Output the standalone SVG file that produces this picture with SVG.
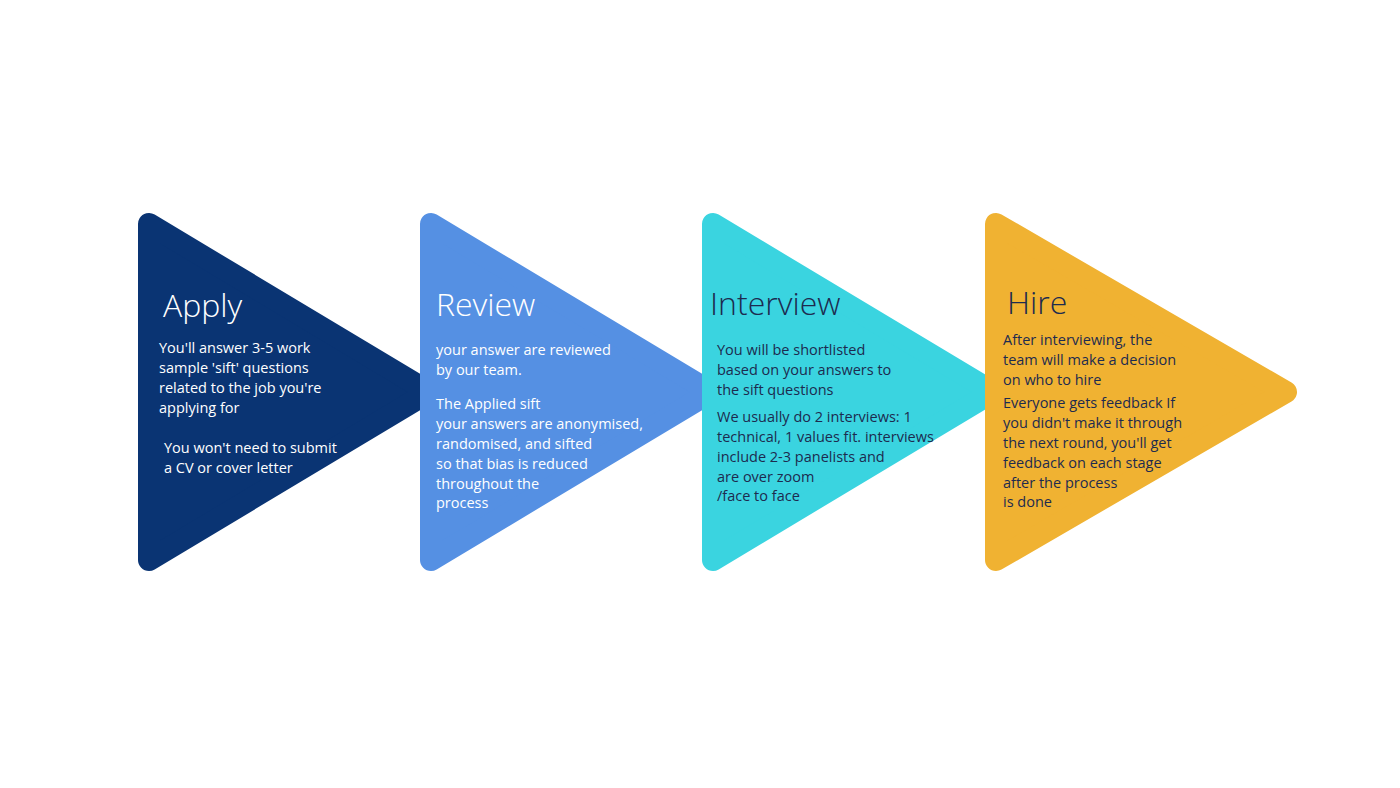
<svg xmlns="http://www.w3.org/2000/svg" width="1400" height="788" viewBox="0 0 1400 788">
<style>
.t{font-family:"Open Sans","Noto Sans",sans-serif;font-weight:300;font-size:32px}
.b{font-family:"Open Sans","Noto Sans",sans-serif;font-size:14.5px}
.w{fill:#ffffff}.d{fill:#1d2b4f}
.tri{stroke-linejoin:round;stroke-width:22}
</style>
<rect width="1400" height="788" fill="#ffffff"/>
<g id="apply">
<path class="tri" d="M149,224 L149,560 L429,392 Z" fill="#0a3473" stroke="#0a3473"/>
<text class="t w" x="163" y="317">Apply</text>
<text class="b w" x="159" y="353">You'll answer 3-5 work</text>
<text class="b w" x="159" y="373">sample 'sift' questions</text>
<text class="b w" x="159" y="393">related to the job you're</text>
<text class="b w" x="159" y="413">applying for</text>
<text class="b w" x="164" y="453">You won't need to submit</text>
<text class="b w" x="164" y="473">a CV or cover letter</text>
</g>
<g id="review">
<path class="tri" d="M431,224 L431,560 L711,392 Z" fill="#5590e3" stroke="#5590e3"/>
<text class="t w" x="436" y="316">Review</text>
<text class="b w" x="436" y="355">your answer are reviewed</text>
<text class="b w" x="436" y="375">by our team.</text>
<text class="b w" x="436" y="409">The Applied sift</text>
<text class="b w" x="436" y="429">your answers are anonymised,</text>
<text class="b w" x="436" y="449">randomised, and sifted</text>
<text class="b w" x="436" y="469">so that bias is reduced</text>
<text class="b w" x="436" y="489">throughout the</text>
<text class="b w" x="436" y="508">process</text>
</g>
<g id="interview">
<path class="tri" d="M713,224 L713,560 L993,392 Z" fill="#3ad4e0" stroke="#3ad4e0"/>
<text class="t d" x="710" y="315">Interview</text>
<text class="b d" x="717" y="355">You will be shortlisted</text>
<text class="b d" x="717" y="375">based on your answers to</text>
<text class="b d" x="717" y="395">the sift questions</text>
<text class="b d" x="717" y="422">We usually do 2 interviews: 1</text>
<text class="b d" x="717" y="442">technical, 1 values fit. interviews</text>
<text class="b d" x="717" y="462">include 2-3 panelists and</text>
<text class="b d" x="717" y="482">are over zoom</text>
<text class="b d" x="717" y="501">/face to face</text>
</g>
<g id="hire">
<path class="tri" d="M996,224 L996,560 L1286,392 Z" fill="#f0b232" stroke="#f0b232"/>
<text class="t d" x="1007" y="314">Hire</text>
<text class="b d" x="1003" y="345">After interviewing, the</text>
<text class="b d" x="1003" y="365">team will make a decision</text>
<text class="b d" x="1003" y="385">on who to hire</text>
<text class="b d" x="1003" y="408">Everyone gets feedback If</text>
<text class="b d" x="1003" y="428">you didn't make it through</text>
<text class="b d" x="1003" y="448">the next round, you'll get</text>
<text class="b d" x="1003" y="468">feedback on each stage</text>
<text class="b d" x="1003" y="488">after the process</text>
<text class="b d" x="1003" y="507">is done</text>
</g>
<g id="connectors"/>
</svg>
